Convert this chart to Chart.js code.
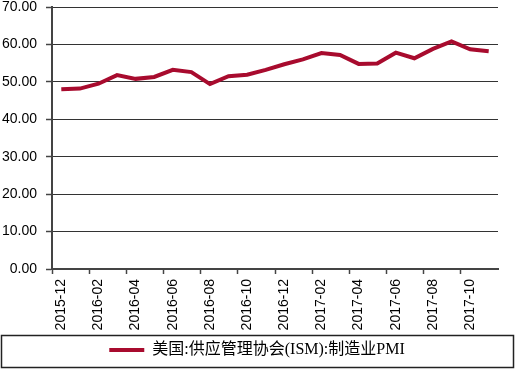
<!DOCTYPE html>
<html>
<head>
<meta charset="utf-8">
<script src="https://cdn.jsdelivr.net/npm/chart.js@4/dist/chart.umd.min.js"></script>
<style>
  html, body { margin: 0; padding: 0; background: #fff; }
  #wrap { width: 515px; height: 370px; }
</style>
</head>
<body>
<div id="wrap"><canvas id="pmi"></canvas></div>
<script>
// Months (monthly data, label shown every other month)
const months = [
  "2015-12", "2016-01", "2016-02", "2016-03", "2016-04", "2016-05",
  "2016-06", "2016-07", "2016-08", "2016-09", "2016-10", "2016-11",
  "2016-12", "2017-01", "2017-02", "2017-03", "2017-04", "2017-05",
  "2017-06", "2017-07", "2017-08", "2017-09", "2017-10", "2017-11",
];

// ISM manufacturing PMI
const pmiValues = [
  48.0, 48.2, 49.5, 51.8, 50.8, 51.3, 53.2, 52.6, 49.4, 51.5, 51.9, 53.2,
  54.7, 56.0, 57.7, 57.2, 54.8, 54.9, 57.8, 56.3, 58.8, 60.8, 58.7, 58.2,
];

const seriesName = "美国:供应管理协会(ISM):制造业PMI";

// Y axis range
const yMin = 0;
const yMax = 70;
const yStep = 10;

const lineColor = "#A80B2E";
const axisColor = "#444";

// Draw a box round the legend
const legendBorder = {
  id: "legendBorder",
  afterDraw(chart) {
    const lg = chart.legend;
    const ctx = chart.ctx;
    ctx.save();
    ctx.strokeStyle = "#222";
    ctx.lineWidth = 1.5;
    ctx.strokeRect(1.5, lg.top + 0.5, chart.width - 3, lg.height - 1);
    ctx.restore();
  },
};

const chart = new Chart(document.getElementById("pmi"), {
  type: "line",
  plugins: [legendBorder],
  data: {
    labels: months,
    datasets: [
      {
        label: seriesName,
        data: pmiValues,
        borderColor: lineColor,
        backgroundColor: lineColor,
        borderWidth: 4,
        pointRadius: 0,
        tension: 0,
      },
    ],
  },
  options: {
    responsive: true,
    maintainAspectRatio: false,
    animation: false,
    layout: { padding: { left: 1, right: 2, top: 0, bottom: 2 } },
    plugins: {
      tooltip: { enabled: false },
      legend: {
        position: "bottom",
        labels: {
          usePointStyle: true,
          pointStyle: "line",
          pointStyleWidth: 35,
          boxHeight: 14,
          padding: 7,
          color: "#000",
          font: { family: "'Liberation Serif', 'Noto Sans CJK SC', serif", size: 16 },
        },
      },
    },
    scales: {
      x: {
        offset: true,
        grid: {
          offset: true,
          drawOnChartArea: false,
          drawTicks: true,
          tickLength: 5,
          tickWidth: 1.5,
          tickColor: (ctx) => (ctx.index % 2 === 0 ? axisColor : "rgba(0,0,0,0)"),
        },
        border: { display: true, color: axisColor, width: 2 },
        ticks: {
          autoSkip: false,
          maxRotation: 90,
          minRotation: 90,
          padding: 5,
          color: "#000",
          font: { family: "Arial, 'Liberation Sans', sans-serif", size: 14 },
          callback: (val, i) => (i % 2 === 0 ? months[i] : ""),
        },
        afterFit(scale) {
          scale.height = 66;
          scale.paddingRight = 17;
        },
      },
      y: {
        min: yMin,
        max: yMax,
        ticks: {
          stepSize: yStep,
          padding: 9,
          color: "#000",
          font: { family: "Arial, 'Liberation Sans', sans-serif", size: 14 },
          callback: (v) => v.toFixed(2),
        },
        grid: {
          color: "#333",
          lineWidth: 1,
          borderDash: [1, 1],
          tickLength: 6,
          tickColor: axisColor,
          tickWidth: 1.5,
          tickBorderDash: [],
        },
        border: { display: true, color: axisColor, width: 2 },
        afterFit(scale) {
          scale.width = 51;
          scale.paddingTop = 7;
        },
      },
    },
  },
});
</script>
</body>
</html>
